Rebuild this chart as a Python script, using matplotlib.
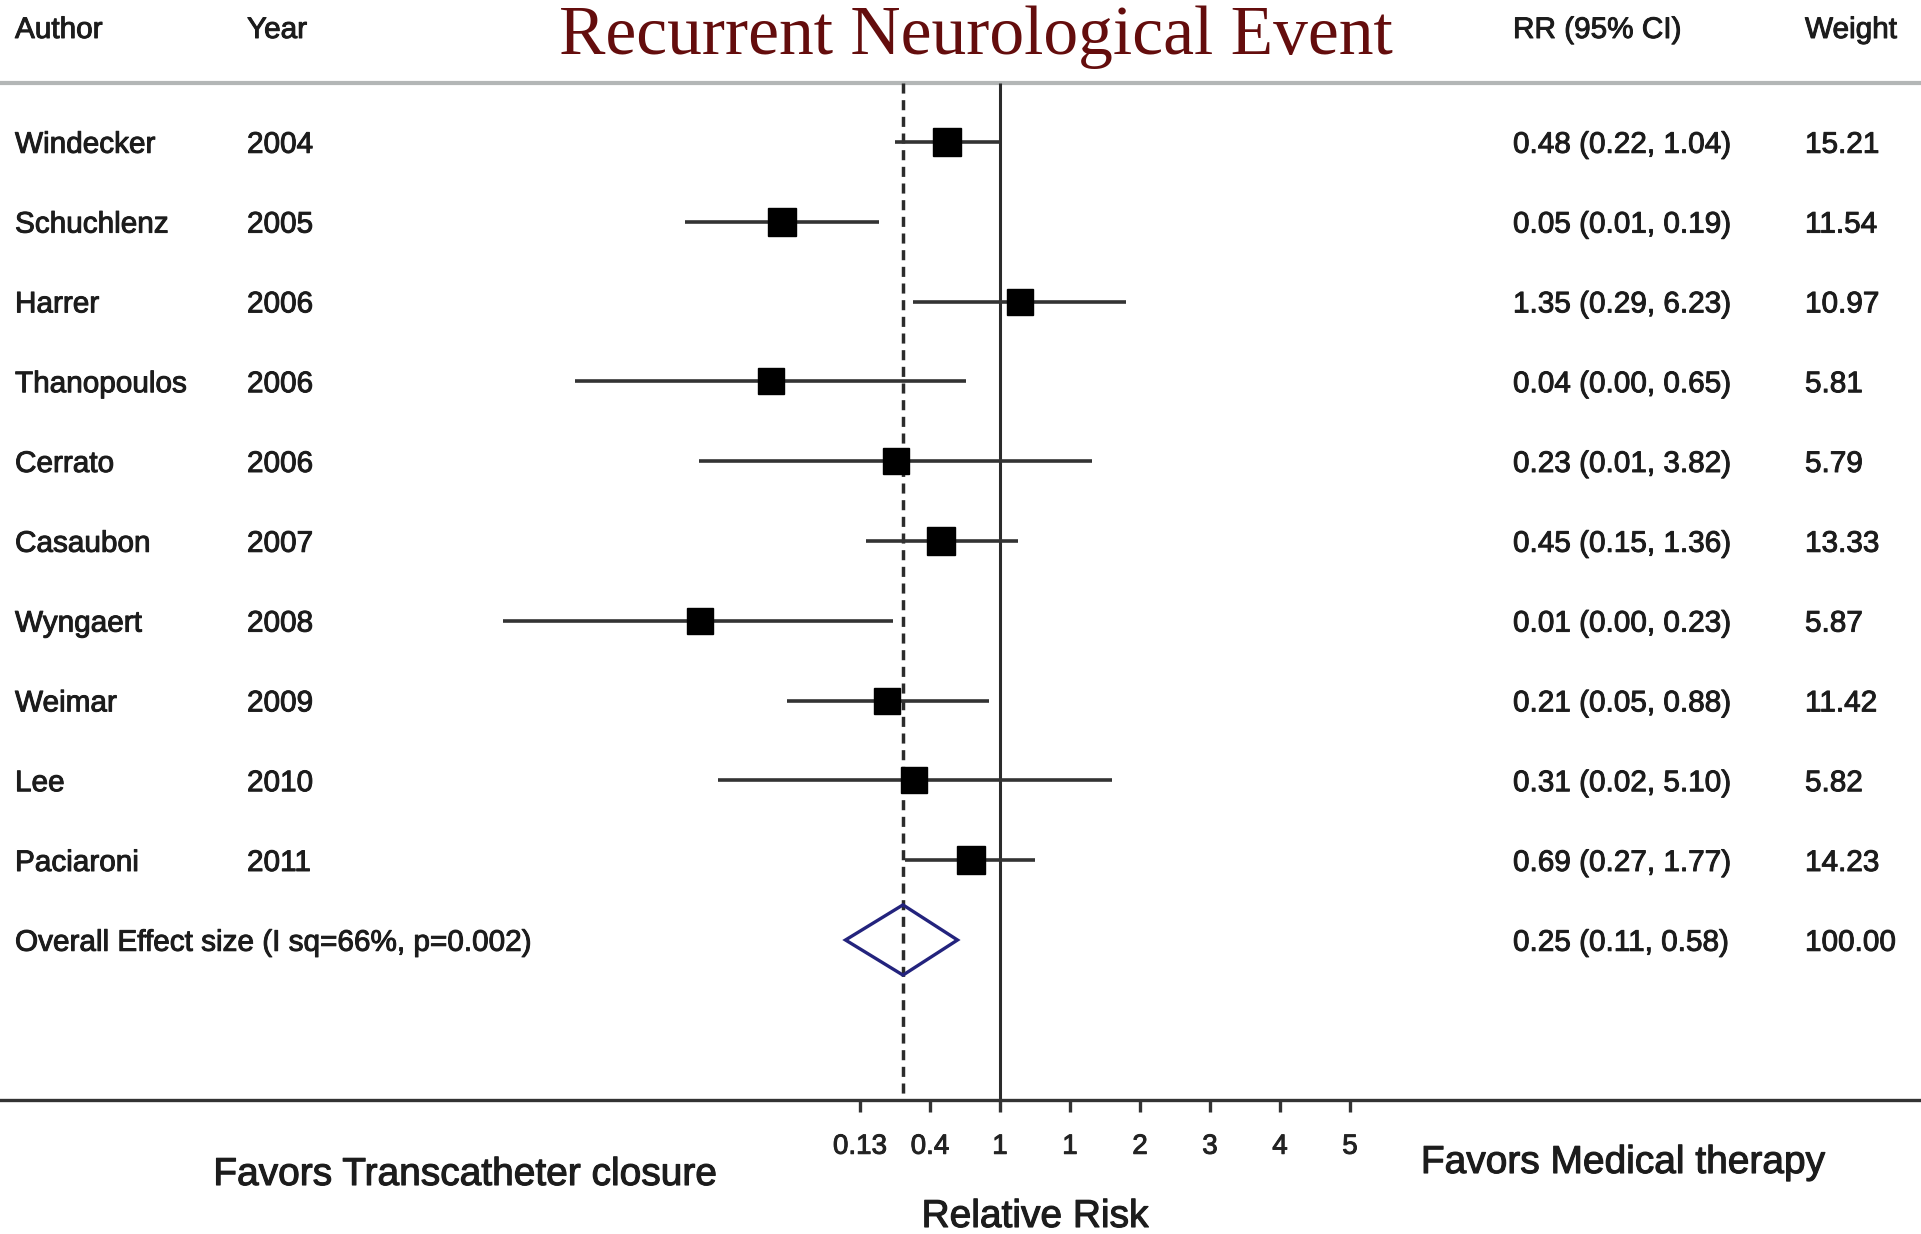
import numpy as np
import matplotlib
matplotlib.use("Agg")
import matplotlib.pyplot as plt
import matplotlib.patheffects as pe
from matplotlib.transforms import blended_transform_factory

plt.rcParams['font.family'] = ['Liberation Sans', 'DejaVu Sans']

# ---------------- data ----------------
authors = ["Windecker", "Schuchlenz", "Harrer", "Thanopoulos", "Cerrato",
           "Casaubon", "Wyngaert", "Weimar", "Lee", "Paciaroni"]
years = ["2004", "2005", "2006", "2006", "2006", "2007", "2008", "2009", "2010", "2011"]
rr_text = ["0.48 (0.22, 1.04)", "0.05 (0.01, 0.19)", "1.35 (0.29, 6.23)",
           "0.04 (0.00, 0.65)", "0.23 (0.01, 3.82)", "0.45 (0.15, 1.36)",
           "0.01 (0.00, 0.23)", "0.21 (0.05, 0.88)", "0.31 (0.02, 5.10)",
           "0.69 (0.27, 1.77)"]
weights = [15.21, 11.54, 10.97, 5.81, 5.79, 13.33, 5.87, 11.42, 5.82, 14.23]

# point estimates and CI as drawn in the picture
rr = [0.47, 0.0445, 1.33, 0.038, 0.225, 0.43, 0.0137, 0.20, 0.293, 0.66]
ci_lo = [0.223, 0.0111, 0.289, 0.0023, 0.0135, 0.148, 0.00083, 0.048, 0.0178, 0.257]
ci_hi = [1.0, 0.177, 6.05, 0.615, 3.7, 1.29, 0.217, 0.855, 4.92, 1.66]

overall_label = "Overall Effect size (I sq=66%, p=0.002)"
overall_text = "0.25 (0.11, 0.58)"
overall_weight = "100.00"
overall_rr = 0.25
overall_lo = 0.11
overall_hi = 0.545

tick_ln = [-2, -1, 0, 1, 2, 3, 4, 5]
tick_labels = ["0.13", "0.4", "1", "1", "2", "3", "4", "5"]

# ---------------- layout ----------------
W, H = 1921, 1234
row0_px, row_step = 142, 79.8
x1_px, px_per_ln = 1000, 70.0

fig = plt.figure(figsize=(W / 100, H / 100), dpi=100)
ax = fig.add_axes([0, 0, 1, 1])
ax.set_xscale('log')
ax.set_xlim(np.exp(-x1_px / px_per_ln), np.exp((W - x1_px) / px_per_ln))
ax.set_ylim((H - row0_px) / row_step, -row0_px / row_step)
ax.patch.set_alpha(0)

header_y = (83 - row0_px) / row_step
axis_y = 12.0
n = len(authors)
rows = np.arange(n)
ov_row = n

# header separator
ax.axhline(header_y, color='#b3b6b6', lw=3, zorder=1)

# reference lines
ax.vlines(1, header_y, axis_y, color='#2b2b2b', lw=2.2, zorder=2)
ax.vlines(overall_rr, header_y, axis_y, color='#2b2b2b', lw=2.5,
          linestyles=(0, (2.9, 1.9)), zorder=2)

# CI lines and boxes
ax.hlines(rows, ci_lo, ci_hi, color='#333333', lw=2.6, zorder=3)
for i in range(n):
    size_px = 23 + 0.35 * weights[i]
    ax.plot(rr[i], rows[i], marker='s', ms=size_px * 0.72, color='black',
            mec='black', zorder=4)

# overall diamond
dh = 0.44
ax.fill([overall_lo, overall_rr, overall_hi, overall_rr],
        [ov_row, ov_row - dh, ov_row, ov_row + dh],
        facecolor='none', edgecolor='#23237d', lw=2.4, zorder=4)

# axis
for s in ['top', 'left', 'right']:
    ax.spines[s].set_visible(False)
ax.spines['bottom'].set_position(('data', axis_y))
ax.spines['bottom'].set_color('#333333')
ax.spines['bottom'].set_linewidth(2.4)
ax.set_yticks([])
ax.set_xticks(np.exp(tick_ln))
ax.set_xticklabels(tick_labels)
ax.xaxis.set_minor_locator(matplotlib.ticker.NullLocator())
ax.tick_params(axis='x', direction='out', length=8.6, width=2.4,
               color='#333333', labelsize=20, labelcolor='#222222', pad=16)

# slightly heavier strokes, like the blurred original
bold = [pe.withStroke(linewidth=0.7, foreground='#1c1c1c')]
for lab in ax.get_xticklabels():
    lab.set_path_effects([pe.withStroke(linewidth=0.7, foreground='#222222')])

# ---------------- text ----------------
tr = blended_transform_factory(fig.transFigure, ax.transData)
txt = dict(fontsize=21.4, color='#1c1c1c', va='center', transform=tr,
           path_effects=bold)
col_author, col_year, col_rr, col_w = 15 / W, 247 / W, 1513 / W, 1805 / W
head_y = (30 - row0_px) / row_step
dy = 0.035

ax.text(col_author, head_y, "Author", **txt)
ax.text(col_year, head_y, "Year", **txt)
ax.text(col_rr, head_y, "RR (95% CI)", **txt)
ax.text(col_w, head_y, "Weight", **txt)

for i in range(n):
    ax.text(col_author, rows[i] + dy, authors[i], **txt)
    ax.text(col_year, rows[i] + dy, years[i], **txt)
    ax.text(col_rr, rows[i] + dy, rr_text[i], **txt)
    ax.text(col_w, rows[i] + dy, f"{weights[i]:.2f}", **txt)

ax.text(col_author, ov_row + dy, overall_label, **txt)
ax.text(col_rr, ov_row + dy, overall_text, **txt)
ax.text(col_w, ov_row + dy, overall_weight, **txt)

fig.text(976 / W, 1 - 37 / H, "Recurrent Neurological Event",
         family='Liberation Serif', fontsize=50, color='#640d0d',
         ha='center', va='center')

big = dict(fontsize=28, color='#1c1c1c', ha='center', va='center',
           path_effects=[pe.withStroke(linewidth=0.8, foreground='#1c1c1c')])
fig.text(465 / W, 1 - 1175 / H, "Favors Transcatheter closure", **big)
fig.text(1623 / W, 1 - 1163 / H, "Favors Medical therapy", **big)
fig.text(1035 / W, 1 - 1217 / H, "Relative Risk", **big)

fig.savefig("out.png", dpi=100, facecolor='white')
